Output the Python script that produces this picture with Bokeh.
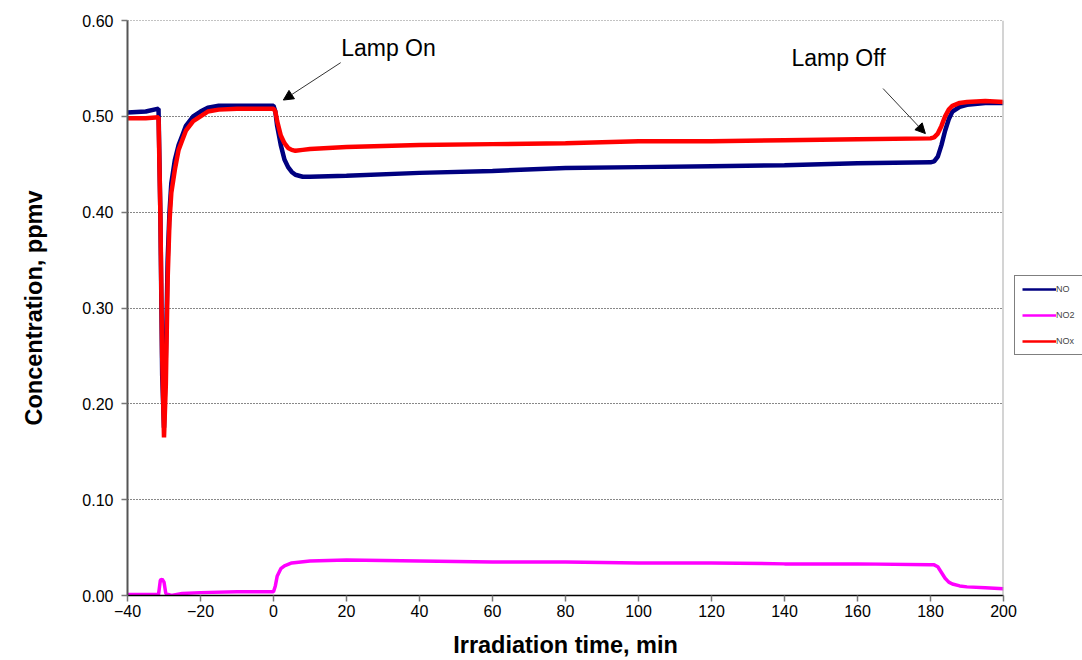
from bokeh.plotting import figure
from bokeh.models import (Legend, LegendItem, Arrow, NormalHead,
                          Label, Span, FixedTicker, NumeralTickFormatter, Range1d)
from bokeh.embed import file_html
from bokeh.resources import INLINE

# ---- data ----
no_t = [-40, -35, -31.5, -31, -30.5, -30, -29.5, -29, -28.5, -28, -27, -26, -25, -24, -22, -20,
        -18, -15, -10, -5, 0, 0.5, 1, 2, 3, 4, 5, 6, 8, 10, 20, 40, 60, 80, 100, 120, 140, 160,
        180, 181, 182, 183, 184, 185, 186, 188, 190, 195, 200]
no_v = [0.504, 0.505, 0.508, 0.40, 0.23, 0.175, 0.25, 0.35, 0.40, 0.43, 0.455, 0.47, 0.48,
        0.49, 0.50, 0.505, 0.509, 0.511, 0.511, 0.511, 0.511, 0.505, 0.49, 0.47, 0.455, 0.447,
        0.442, 0.439, 0.437, 0.437, 0.438, 0.441, 0.443, 0.446, 0.447, 0.448, 0.449, 0.451,
        0.452, 0.453, 0.458, 0.47, 0.485, 0.497, 0.505, 0.510, 0.512, 0.514, 0.514]

nox_t = [-40, -35, -31.5, -31, -30.5, -30, -29.5, -29, -28.5, -28, -27, -26, -25, -24, -22, -20,
         -18, -15, -10, -5, 0, 0.5, 1, 2, 3, 4, 5, 6, 8, 10, 20, 40, 60, 80, 100, 120, 140, 160,
         180, 181, 182, 183, 184, 185, 186, 188, 190, 195, 200]
nox_v = [0.498, 0.498, 0.499, 0.40, 0.25, 0.165, 0.22, 0.33, 0.39, 0.42, 0.445, 0.465, 0.475,
         0.485, 0.495, 0.500, 0.505, 0.507, 0.508, 0.508, 0.508, 0.505, 0.495, 0.48, 0.472,
         0.467, 0.465, 0.464, 0.465, 0.466, 0.468, 0.470, 0.471, 0.472, 0.474, 0.474, 0.475,
         0.476, 0.477, 0.478, 0.482, 0.49, 0.50, 0.507, 0.511, 0.514, 0.515, 0.516, 0.515]

no2_t = [-40, -35, -31.5, -31, -30.5, -30, -29.5, -28, -25, -20, -10, 0, 0.5, 1, 2, 3, 5, 10,
         20, 40, 60, 80, 100, 120, 140, 160, 180, 181, 182, 183, 184, 185, 186, 188, 190, 195, 200]
no2_v = [0.001, 0.001, 0.001, 0.016, 0.017, 0.014, 0.002, 0.0, 0.002, 0.003, 0.004, 0.004,
         0.010, 0.020, 0.028, 0.031, 0.034, 0.036, 0.037, 0.036, 0.035, 0.035, 0.034, 0.034,
         0.033, 0.033, 0.032, 0.032, 0.030, 0.024, 0.018, 0.014, 0.012, 0.010, 0.009, 0.008, 0.007]

series_names = ["NO", "NO2", "NOx"]
series_colors = ["#000080", "#FF00FF", "#FF0000"]
x_ticks = [-40, -20, 0, 20, 40, 60, 80, 100, 120, 140, 160, 180, 200]
y_ticks = [0.0, 0.1, 0.2, 0.3, 0.4, 0.5, 0.6]

FONT = "Liberation Sans"

p = figure(frame_width=876, frame_height=575, output_backend="svg", toolbar_location=None,
           x_range=Range1d(-40, 200), y_range=Range1d(0, 0.60),
           min_border_left=127, min_border_right=79, min_border_top=20, min_border_bottom=65,
           background_fill_color="white", border_fill_color="white")
p.outline_line_color = None

# axes
p.xaxis.ticker = FixedTicker(ticks=x_ticks)
p.yaxis.ticker = FixedTicker(ticks=y_ticks)
p.yaxis.formatter = NumeralTickFormatter(format="0.00")
for ax in (p.xaxis[0], p.yaxis[0]):
    ax.major_label_text_font = FONT
    ax.major_label_text_font_size = "16px"
    ax.major_label_text_color = "black"
    ax.axis_label_text_font = FONT
    ax.axis_label_text_font_style = "bold"
    ax.axis_label_text_font_size = "23.5px"
    ax.axis_label_text_color = "black"
    ax.minor_tick_line_color = None
    ax.major_tick_in = 0
    ax.major_tick_out = 6
    ax.major_tick_line_color = "#777777"
    ax.major_tick_line_width = 1.5
p.xaxis.axis_line_color = "black"
p.xaxis.axis_line_width = 1.5
p.yaxis.axis_line_color = "#555555"
p.yaxis.axis_line_width = 2
p.xaxis.axis_label = "Irradiation time, min"
p.yaxis.axis_label = "Concentration, ppmv"
p.xaxis.major_label_standoff = 3
p.yaxis.major_label_standoff = 8
p.xaxis.axis_label_standoff = 12
p.yaxis.axis_label_standoff = 32

p.xgrid.grid_line_color = None
p.ygrid.grid_line_color = "#111111"
p.ygrid.grid_line_dash = "1 2"
p.ygrid.grid_line_width = 1

# top dotted line and right border
p.add_layout(Span(location=0.60, dimension="width", line_color="#111111",
                  line_dash="1 2", line_width=1))
p.add_layout(Span(location=200, dimension="height", line_color="#aaaaaa", line_width=2))

r_no2 = p.line(no2_t, no2_v, line_color=series_colors[1], line_width=3.5)
r_no = p.line(no_t, no_v, line_color=series_colors[0], line_width=4.5)
r_nox = p.line(nox_t, nox_v, line_color=series_colors[2], line_width=4.5)

# thinner proxy lines for the legend (placed outside the visible x range)
proxies = [p.line([-100, -99], [0.3, 0.3], line_color=c, line_width=2.5) for c in series_colors]

# annotations
p.add_layout(Label(x=31.5, y=0.571, text="Lamp On", text_font=FONT, text_font_size="23px",
                   text_align="center", text_baseline="middle", text_color="black"))
p.add_layout(Arrow(x_start=18.4, y_start=0.556, x_end=2.7, y_end=0.517,
                   line_color="#333333", line_width=1,
                   end=NormalHead(size=10, fill_color="black", line_color="black")))
p.add_layout(Label(x=154.8, y=0.561, text="Lamp Off", text_font=FONT, text_font_size="23px",
                   text_align="center", text_baseline="middle", text_color="black"))
p.add_layout(Arrow(x_start=167, y_start=0.529, x_end=178.6, y_end=0.482,
                   line_color="#333333", line_width=1,
                   end=NormalHead(size=10, fill_color="black", line_color="black")))

legend = Legend(items=[LegendItem(label=n, renderers=[r]) for n, r in zip(series_names, proxies)],
                location=(11, 240), orientation="vertical",
                label_text_font=FONT, label_text_font_size="9px",
                glyph_width=34, glyph_height=12, spacing=14, padding=7, margin=6,
                label_standoff=0, border_line_color="black", border_line_width=1,
                background_fill_alpha=1)
p.add_layout(legend, "right")

open("out.html", "w").write(file_html(p, INLINE))
